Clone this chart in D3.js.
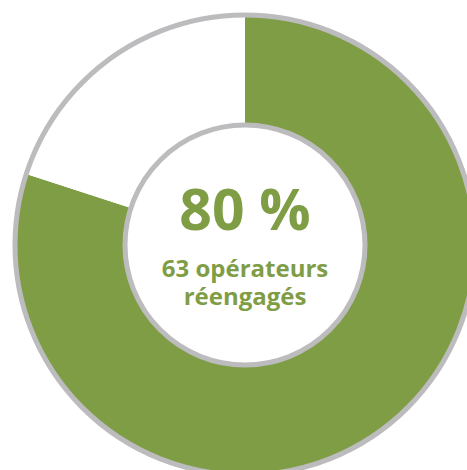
<!DOCTYPE html>
<html>
<head>
<meta charset="utf-8">
<script src="https://cdn.jsdelivr.net/npm/d3@7"></script>
<style>
    html, body { margin: 0; padding: 0; background: #fff; }
    svg { display: block; }
</style>
</head>
<body>
<div id="chart"></div>
<script>
// Data.
const categories = ["Réengagés", "Autres"];
const values = [80, 20];
const centerLabels = ["80 %", "63 opérateurs", "réengagés"];

// Canvas and donut geometry.
const width = 467, height = 470;
const cx = 245, cy = 245;
const outerR = 230, innerR = 120;
const green = "#7f9d45", grey = "#bcbcbe";

const svg = d3.select("#chart").append("svg")
    .attr("width", width)
    .attr("height", height);

const g = svg.append("g")
    .attr("transform", "translate(" + cx + "," + cy + ")");

const pie = d3.pie().sort(null).value(d => d);
const arc = d3.arc().innerRadius(innerR).outerRadius(outerR);

// Slices: first one green, the rest white.
g.selectAll("path")
    .data(pie(values))
    .join("path")
        .attr("d", arc)
        .attr("fill", (d, i) => i === 0 ? green : "#fff");

// Outer grey ring.
g.append("circle")
    .attr("r", outerR)
    .attr("fill", "none")
    .attr("stroke", grey)
    .attr("stroke-width", 5);

// Inner white disk with grey border.
g.append("circle")
    .attr("r", innerR)
    .attr("fill", "#fff")
    .attr("stroke", grey)
    .attr("stroke-width", 5);

// Centre labels.
const font = "'Open Sans', sans-serif";
g.append("text")
    .attr("y", -15)
    .attr("text-anchor", "middle")
    .style("font-family", font)
    .style("font-weight", 700)
    .style("font-size", "57px")
    .style("fill", green)
    .text(centerLabels[0]);

g.append("text")
    .attr("y", 32)
    .attr("text-anchor", "middle")
    .style("font-family", font)
    .style("font-weight", 700)
    .style("font-size", "24px")
    .style("fill", green)
    .text(centerLabels[1]);

g.append("text")
    .attr("y", 60)
    .attr("text-anchor", "middle")
    .style("font-family", font)
    .style("font-weight", 700)
    .style("font-size", "24px")
    .style("fill", green)
    .text(centerLabels[2]);
</script>
</body>
</html>
